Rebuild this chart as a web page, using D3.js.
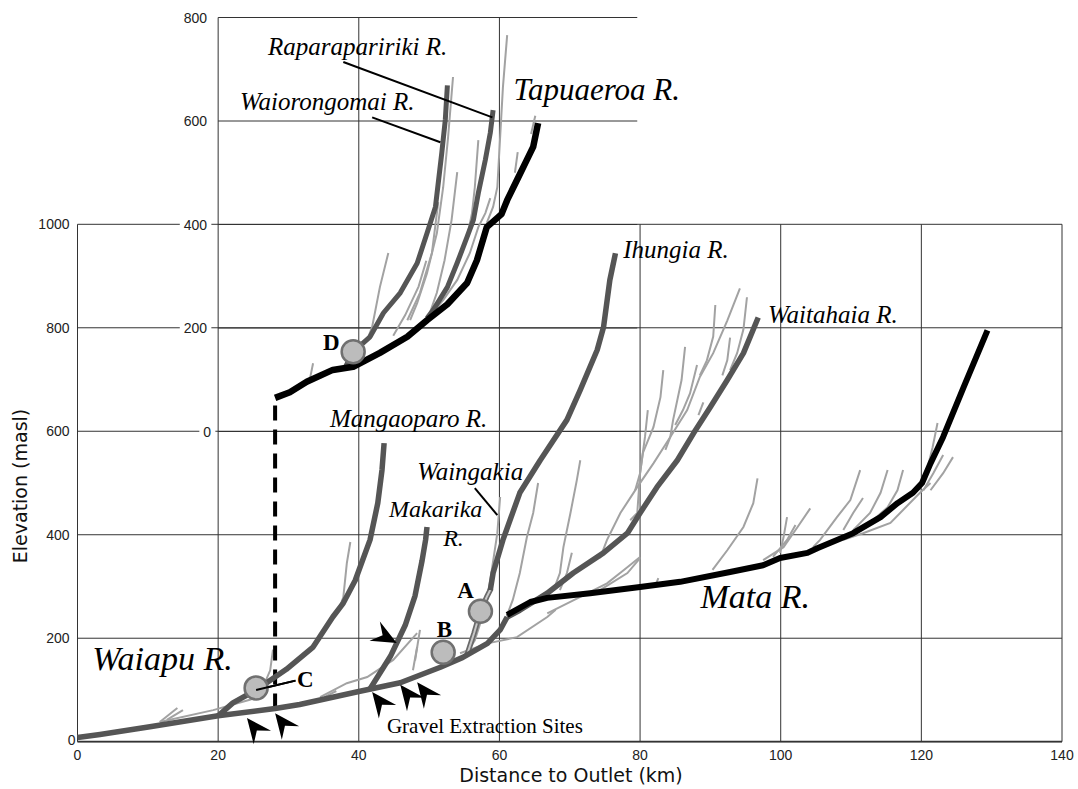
<!DOCTYPE html>
<html>
<head>
<meta charset="utf-8">
<script src="https://cdn.jsdelivr.net/npm/d3@7"></script>
<style>
  body { margin: 0; background: #fff; }
  .tick-label { font-family: "Liberation Sans", Arial, sans-serif; font-size: 14px; fill: #222; }
  .axis-title { font-family: "DejaVu Sans", Verdana, sans-serif; font-size: 19px; fill: #111; }
  .river-label { font-family: "Liberation Serif", "Times New Roman", serif; font-style: italic; fill: #000; }
  .site-label { font-family: "Liberation Serif", "Times New Roman", serif; font-weight: bold; font-size: 23px; fill: #000; }
</style>
</head>
<body>
<script>
(function() {

  const width = 1078;
  const height = 789;

  // tick values
  const xTicks = [0, 20, 40, 60, 80, 100, 120, 140];
  const yTicks = [0, 200, 400, 600, 800, 1000];
  const insetTicks = [0, 200, 400, 600, 800];

  // main profiles [distance km, elevation m]
  const waiapu = [[0,8],[3.2,14],[10.3,29],[20,50],[28.1,64],[31.6,72],[40,97],[45.9,114],[51.6,144],[54.8,163],[58.3,190],[60.1,216],[61.1,241]];
  const waitahaia = [[61.1,241],[62.9,254],[66.8,287],[70.5,326],[74.8,365],[78.2,403],[80,442],[82.4,492],[85.3,544],[87.6,596],[90,647],[92.4,699],[94.7,751],[96.8,820]];
  const mata = [[61.1,245],[64.4,270],[66.8,278],[72.9,287],[80,299],[85.7,309],[92.8,328],[97.5,341],[99.9,355],[103.8,365],[105.2,374],[110.3,403],[114.2,434],[116.6,461],[118.8,481],[120.1,500],[121.3,538],[123.1,589],[126,685],[129.4,795]];
  const ihungiaLower = [[55.4,168],[56.4,210],[57.3,252],[58.2,280],[58.8,296]];
  const ihungia = [[58.7,293],[59.1,326],[60.5,390],[62.9,481],[65.8,544],[69.6,622],[71.5,680],[73.9,757],[74.8,801],[75.7,892],[76.5,944]];
  const mangaoparo = [[20,50],[22.1,75],[25.4,100],[29.7,140],[33.5,183],[36.3,241],[37.8,268],[39.5,312],[41.6,390],[42.7,461],[43.3,525],[43.6,577]];
  const makarika = [[41.5,100],[44.5,165],[46.6,225],[48,282],[49,350],[49.5,390],[49.7,415]];

  // inset profiles (elevation on the inset axis)
  const tapuaeroa = [[28.1,65],[30.2,76],[32.6,96],[36.3,119],[39.2,125],[43,152],[46.9,183],[49.7,215],[52.6,246],[55.4,287],[56.8,331],[58.2,395],[59.3,408],[60.3,420],[61.1,447],[62.5,486],[63.9,525],[64.8,550],[65.5,596]];
  const waiorongomai = [[38,122],[39.2,154],[41.6,183],[43.5,229],[45.9,268],[48.3,325],[49.7,383],[50.9,434],[51.8,538],[52.3,602],[52.6,669]];
  const raparapaririki = [[49.7,219],[50.6,235],[52.6,279],[54,326],[55.4,376],[56.3,409],[57,461],[58,525],[58.7,577],[59.1,621]];

  // minor tributaries, main panel
  const mainTribs = [
    [[11.7,38],[14.2,65]],
    [[12.7,42],[15,61]],
    [[11.7,38],[19.3,61],[24.5,81],[26.9,94]],
    [[25,81],[26.4,106],[27.4,138],[27.8,178]],
    [[36.9,248],[37.8,279],[38.3,345],[38.8,386]],
    [[34.5,86],[38.3,113],[41.2,125],[44.9,158],[48.3,210]],
    [[35.1,86],[36.8,98]],
    [[47.7,138],[48.3,183]],
    [[48,157],[48.7,216]],
    [[55.4,173],[56.5,196],[58,260],[58.7,312],[59.7,403],[60.1,473]],
    [[61.1,245],[61.9,274],[62.9,326],[63.9,395],[64.8,442],[65.5,500]],
    [[67.7,293],[68.6,326],[69.1,376],[70.1,442],[71,505],[71.5,544]],
    [[68.6,293],[69.6,326],[70.3,365]],
    [[66.8,248],[71.5,280],[75.3,306],[77.7,332],[80,357]],
    [[54.4,171],[58.3,190],[62.5,202],[66.8,241],[68,255]],
    [[74.3,355],[75.3,390],[77.2,442],[79.6,492],[81.9,538],[84.3,589],[86.7,641],[88.5,705],[90.4,751],[92.4,814],[94.2,876]],
    [[92.8,718],[93.8,751],[94.7,797],[95.2,859]],
    [[88.5,708],[89.5,737],[90.4,783],[90.7,844]],
    [[91.7,708],[92.4,737],[92.8,781]],
    [[83.6,564],[84.3,589],[84.7,622],[85.9,699],[86.4,763]],
    [[85,612],[86.1,641],[87.1,673],[88.1,728]],
    [[79.3,486],[80,519],[80.4,558],[81.9,608],[82.9,666],[83.3,718]],
    [[78.6,428],[79.6,442],[80,519],[80.7,589],[81.1,641]],
    [[88.3,631],[89,656]],
    [[74.3,293],[78.2,326],[80,355]],
    [[82.3,306],[82.6,316]],
    [[90.3,332],[92.4,370],[94.7,415],[96.1,461],[96.7,509]],
    [[99.9,365],[100.4,395],[100.9,434]],
    [[97.5,351],[100.4,376],[102.4,415],[104.2,451]],
    [[98.9,357],[100.9,390],[102.1,419]],
    [[104.6,376],[105.6,390],[108,434],[109.9,467],[111.3,525]],
    [[108.9,409],[110.3,442],[111.7,471]],
    [[110.3,409],[112.7,442],[114.2,481],[115.2,525]],
    [[112.7,423],[115.2,453],[116.6,486],[117.4,525]],
    [[119.8,486],[120.8,525],[121.6,569],[122.3,616]],
    [[120.3,486],[121.7,519],[123.1,554]],
    [[121.3,486],[123.1,519],[124.5,550]],
    [[108.9,390],[111.7,403],[115.6,423],[119.8,481],[121.3,500]]
  ];

  // minor tributaries, inset panel
  const insetTribs = [
    [[47.3,215],[48.3,248],[49.7,306],[51.1,383],[52,472],[52.7,569],[53.4,685]],
    [[50.1,229],[51.1,268],[52.2,331],[53.2,409],[54,501]],
    [[58.2,403],[59.1,434],[59.7,472],[60.1,569],[60.5,666],[61.1,766]],
    [[55.4,376],[56.1,422],[56.5,472],[57,563]],
    [[50.4,229],[52,254],[54,293],[55.8,345],[57,395],[58,422],[58.7,451]],
    [[62.2,500],[62.6,540]],
    [[64.5,575],[65.1,610]],
    [[41.2,177],[41.9,202],[43,279],[44.2,345]],
    [[33.1,105],[33.5,132]],
    [[46.9,215],[48.7,268],[50.4,345],[51.3,443]],
    [[44.9,185],[46.6,225],[48.5,280],[49.6,330]]
  ];

  // sampling sites and gravel extraction arrows
  const sites = [
    {id: "A", km: 57.3, elev: 252, inset: false},
    {id: "B", km: 52, elev: 173, inset: false},
    {id: "C", km: 25.4, elev: 104, inset: false},
    {id: "D", km: 39.2, elev: 154, inset: true}
  ];
  const arrows = [[24.1,46,-128],[28.1,55,-128],[41.9,96,-128],[45.9,110,-128],[48.3,115,-128],[45.4,191,28]];

  window.onload = function() {
    drawChart();
  };

  function drawChart() {
    let svg = d3.select("body").append("svg")
      .attr("width", width)
      .attr("height", height);

    let x = d3.scaleLinear().domain([0, 140]).range([77.5, 1062]);
    let y = d3.scaleLinear().domain([0, 1000]).range([741.7, 224.3]);
    let yIn = d3.scaleLinear().domain([0, 800]).range([431.5, 17.5]);

    let line = d3.line().x(d => x(d[0])).y(d => y(d[1]));
    let lineIn = d3.line().x(d => x(d[0])).y(d => yIn(d[1]));

    // main grid
    let grid = svg.append("g").attr("stroke", "#333").attr("stroke-width", 1);
    xTicks.forEach(t => {
      grid.append("line").attr("x1", x(t)).attr("x2", x(t)).attr("y1", y(0)).attr("y2", y(1000));
    });
    yTicks.forEach(t => {
      grid.append("line").attr("x1", x(0)).attr("x2", x(140)).attr("y1", y(t)).attr("y2", y(t));
    });
    grid.append("line").attr("x1", x(0)).attr("x2", x(140)).attr("y1", y(0)).attr("y2", y(0)).attr("stroke-width", 1.8);

    // inset grid
    let insetGrid = svg.append("g").attr("stroke", "#333").attr("stroke-width", 1);
    insetTicks.forEach(t => {
      insetGrid.append("line").attr("x1", x(20)).attr("x2", x(79.6)).attr("y1", yIn(t)).attr("y2", yIn(t));
    });
    [20, 40, 60].forEach(t => {
      insetGrid.append("line").attr("x1", x(t)).attr("x2", x(t)).attr("y1", yIn(800)).attr("y2", yIn(400));
    });

    // tick labels
    svg.selectAll(".xlab").data(xTicks).enter().append("text")
      .attr("class", "tick-label")
      .attr("x", d => x(d))
      .attr("y", y(0) + 18)
      .attr("text-anchor", "middle")
      .text(d => d);

    svg.selectAll(".ylab").data(yTicks).enter().append("text")
      .attr("class", "tick-label")
      .attr("x", d => d === 0 ? x(0) - 2 : x(0) - 8)
      .attr("y", d => d === 0 ? y(0) + 3 : y(d) + 5)
      .attr("text-anchor", "end")
      .text(d => d);

    // inset labels sit on white boxes over the main grid
    let insetLab = svg.selectAll(".ilab").data(insetTicks).enter().append("g");
    insetLab.append("rect")
      .attr("fill", "#fff");
    insetLab.append("text")
      .attr("class", "tick-label")
      .attr("x", d => d === 0 ? x(20) - 7 : x(20) - 11)
      .attr("y", d => yIn(d) + 5)
      .attr("text-anchor", "end")
      .text(d => d);
    insetLab.each(function() {
      let g = d3.select(this);
      let bb = g.select("text").node().getBBox();
      g.select("rect")
        .attr("x", bb.x - 4).attr("y", bb.y)
        .attr("width", bb.width + 8).attr("height", bb.height);
    });

    svg.append("text")
      .attr("class", "axis-title")
      .attr("x", 571)
      .attr("y", 782)
      .attr("text-anchor", "middle")
      .text("Distance to Outlet (km)");

    svg.append("text")
      .attr("class", "axis-title")
      .attr("transform", "translate(27,486)rotate(-90)")
      .attr("text-anchor", "middle")
      .text("Elevation (masl)");

    // minor tributaries
    svg.append("g").selectAll("path").data(mainTribs).enter().append("path")
      .attr("d", line)
      .attr("fill", "none")
      .attr("stroke", "#a2a2a2")
      .attr("stroke-width", 2);

    svg.append("g").selectAll("path").data(insetTribs).enter().append("path")
      .attr("d", lineIn)
      .attr("fill", "none")
      .attr("stroke", "#a2a2a2")
      .attr("stroke-width", 2);

    // dashed link between inset and main profile
    svg.append("line")
      .attr("x1", x(28.1)).attr("x2", x(28.1))
      .attr("y1", y(64)).attr("y2", yIn(65))
      .attr("stroke", "#000")
      .attr("stroke-width", 4)
      .attr("stroke-dasharray", "15,9");

    // lower Ihungia drawn as a double line
    svg.append("path").attr("d", line(ihungiaLower))
      .attr("fill", "none").attr("stroke", "#6a6a6a").attr("stroke-width", 5.5);
    svg.append("path").attr("d", line(ihungiaLower))
      .attr("fill", "none").attr("stroke", "#c8c8c8").attr("stroke-width", 2);

    // main rivers
    let grey = [waiapu, waitahaia, ihungia, mangaoparo, makarika];
    svg.append("g").selectAll("path").data(grey).enter().append("path")
      .attr("d", line)
      .attr("fill", "none")
      .attr("stroke", "#555")
      .attr("stroke-width", 5.5)
      .attr("stroke-linejoin", "round");

    svg.append("path").attr("d", line(mata))
      .attr("fill", "none").attr("stroke", "#000").attr("stroke-width", 6).attr("stroke-linejoin", "round");

    svg.append("g").selectAll("path").data([waiorongomai, raparapaririki]).enter().append("path")
      .attr("d", lineIn)
      .attr("fill", "none")
      .attr("stroke", "#555")
      .attr("stroke-width", 5)
      .attr("stroke-linejoin", "round");

    svg.append("path").attr("d", lineIn(tapuaeroa))
      .attr("fill", "none").attr("stroke", "#000").attr("stroke-width", 6.5).attr("stroke-linejoin", "round");

    // gravel extraction arrows
    svg.append("g").selectAll("path").data(arrows).enter().append("path")
      .attr("d", "M0,0 L-25,-11 L-16,0 L-25,11 Z")
      .attr("fill", "#000")
      .attr("transform", d => "translate(" + x(d[0]) + "," + y(d[1]) + ")rotate(" + d[2] + ")");

    // leader lines
    let leaders = [
      [x(25.4), y(100), x(31), y(118)],
      [x(56.5), y(490), x(59.7), y(438)],
      [x(37.8), yIn(714), x(59), yIn(607)],
      [x(41.9), yIn(607), x(51.6), yIn(559)]
    ];
    svg.append("g").selectAll("line").data(leaders).enter().append("line")
      .attr("x1", d => d[0]).attr("y1", d => d[1])
      .attr("x2", d => d[2]).attr("y2", d => d[3])
      .attr("stroke", "#000")
      .attr("stroke-width", 2);

    // sites
    svg.append("g").selectAll("circle").data(sites).enter().append("circle")
      .attr("cx", d => x(d.km))
      .attr("cy", d => d.inset ? yIn(d.elev) : y(d.elev))
      .attr("r", 11.5)
      .attr("fill", "#bcbcbc")
      .attr("stroke", "#707070")
      .attr("stroke-width", 2.5);

    svg.append("line")
      .attr("x1", x(25.4)).attr("y1", y(100))
      .attr("x2", x(31)).attr("y2", y(118))
      .attr("stroke", "#000").attr("stroke-width", 2);

    let siteText = [["A", 54, 278, false], ["B", 51.1, 202, false], ["C", 31.2, 106, false], ["D", 34.9, 157, true]];
    svg.append("g").selectAll("text").data(siteText).enter().append("text")
      .attr("class", "site-label")
      .attr("x", d => x(d[1]))
      .attr("y", d => d[3] ? yIn(d[2]) : y(d[2]))
      .text(d => d[0]);

    // river names [text, km, elev, size, inset]
    let names = [
      ["Waiapu R.", 2.1, 139, 34, false],
      ["Mata R.", 88.6, 258, 34, false],
      ["Ihungia R.", 77.6, 934, 25, false],
      ["Waitahaia R.", 98.2, 809, 25, false],
      ["Mangaoparo R.", 35.9, 608, 25, false],
      ["Waingakia", 48.3, 505, 25, false],
      ["Makarika", 44.3, 434, 24, false],
      ["R.", 52, 378, 24, false],
      ["Tapuaeroa R.", 62, 640, 31, true],
      ["Raparapaririki R.", 27.1, 727, 25, true],
      ["Waiorongomai R.", 23.1, 621, 25, true]
    ];
    svg.append("g").selectAll("text").data(names).enter().append("text")
      .attr("class", "river-label")
      .attr("x", d => x(d[1]))
      .attr("y", d => d[4] ? yIn(d[2]) : y(d[2]))
      .style("font-size", d => d[3] + "px")
      .text(d => d[0]);

    svg.append("text")
      .attr("x", x(44))
      .attr("y", y(17))
      .style("font-family", "'Liberation Serif', 'Times New Roman', serif")
      .style("font-size", "21px")
      .text("Gravel Extraction Sites");
  }

})();
</script>
</body>
</html>
